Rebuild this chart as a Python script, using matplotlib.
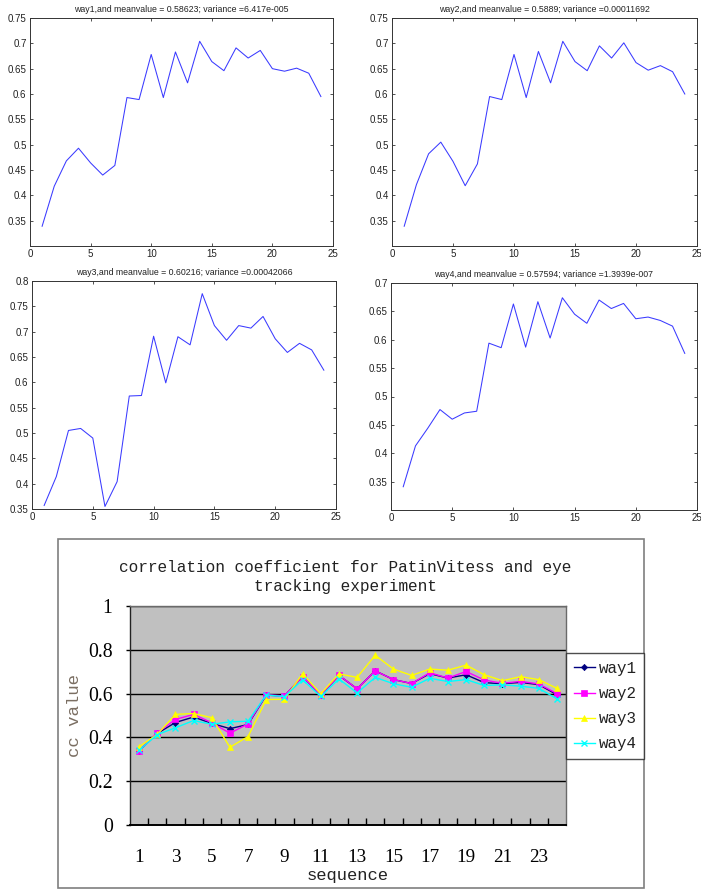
import numpy as np
import matplotlib
matplotlib.use("Agg")
import matplotlib.pyplot as plt
from matplotlib.patches import Rectangle
from matplotlib.ticker import FuncFormatter

# Correlation coefficient per sequence for the four ways
sequence = list(range(1, 25))
way1 = [0.339, 0.418, 0.468, 0.493, 0.464, 0.440, 0.459, 0.593, 0.589, 0.678, 0.593, 0.683,
        0.622, 0.704, 0.664, 0.646, 0.691, 0.671, 0.686, 0.650, 0.645, 0.651, 0.641, 0.595]
way2 = [0.339, 0.421, 0.482, 0.505, 0.467, 0.419, 0.462, 0.595, 0.589, 0.678, 0.593, 0.684,
        0.622, 0.704, 0.664, 0.646, 0.695, 0.671, 0.701, 0.662, 0.647, 0.656, 0.644, 0.600]
way3 = [0.357, 0.414, 0.505, 0.509, 0.490, 0.355, 0.404, 0.573, 0.574, 0.691, 0.599, 0.690,
        0.674, 0.775, 0.712, 0.683, 0.712, 0.707, 0.730, 0.686, 0.659, 0.677, 0.664, 0.624]
way4 = [0.341, 0.413, 0.444, 0.477, 0.460, 0.471, 0.474, 0.594, 0.586, 0.663, 0.587, 0.667,
        0.603, 0.674, 0.645, 0.629, 0.670, 0.655, 0.664, 0.637, 0.640, 0.634, 0.624, 0.576]

series = [way1, way2, way3, way4]
names = ["way1", "way2", "way3", "way4"]
titles = [
    "way1,and meanvalue = 0.58623; variance =6.417e-005",
    "way2,and meanvalue = 0.5889; variance =0.00011692",
    "way3,and meanvalue = 0.60216; variance =0.00042066",
    "way4,and meanvalue = 0.57594; variance =1.3939e-007",
]
ylims = [(0.30, 0.75), (0.30, 0.75), (0.35, 0.80), (0.30, 0.70)]
yticks = [
    [0.35, 0.4, 0.45, 0.5, 0.55, 0.6, 0.65, 0.7, 0.75],
    [0.35, 0.4, 0.45, 0.5, 0.55, 0.6, 0.65, 0.7, 0.75],
    [0.35, 0.4, 0.45, 0.5, 0.55, 0.6, 0.65, 0.7, 0.75, 0.8],
    [0.35, 0.4, 0.45, 0.5, 0.55, 0.6, 0.65, 0.7],
]
xticks_top = [0, 5, 10, 15, 20, 25]

cc_ticks = [0, 0.2, 0.4, 0.6, 0.8, 1]
seq_labels = [1, 3, 5, 7, 9, 11, 13, 15, 17, 19, 21, 23]
colors = ["#000080", "#ff00ff", "#ffff00", "#00ffff"]
markers = ["D", "s", "^", "x"]
msizes = [3.2, 4.2, 5.0, 3.8]

W, H = 701, 889
fig = plt.figure(figsize=(W / 100, H / 100), dpi=100)
fig.patch.set_facecolor("white")


def px_axes(left, top, right, bottom):
    return fig.add_axes([left / W, 1 - bottom / H, (right - left) / W, (bottom - top) / H])


# ---- four small line plots ----
boxes = [(30, 18, 333, 246), (392, 18, 697, 246), (32, 281, 336, 509), (391, 283, 697, 510)]
sans = ["Liberation Sans", "DejaVu Sans"]
for i, (box, data) in enumerate(zip(boxes, series)):
    ax = px_axes(*box)
    ax.plot(sequence, data, color="#3a3aff", lw=0.75)
    ax.set_xlim(0, 25)
    ax.set_ylim(*ylims[i])
    ax.set_xticks(xticks_top)
    ax.set_yticks(yticks[i])
    ax.xaxis.set_major_formatter(FuncFormatter(lambda v, p: f"{v:g}"))
    ax.yaxis.set_major_formatter(FuncFormatter(lambda v, p: f"{v:g}"))
    ax.tick_params(direction="in", length=2.5, width=0.6, top=True, right=True,
                   labelsize=7, colors="#333333", labelcolor="#222222", pad=2.5)
    for lab in ax.get_xticklabels() + ax.get_yticklabels():
        lab.set_family(sans)
    for s in ax.spines.values():
        s.set_color("#333333")
        s.set_linewidth(0.7)
    ax.set_title(titles[i], fontsize=6.3, family=sans, color="#222222", pad=4)

# ---- combined chart ----
fig.patches.append(Rectangle((58 / W, 1 - 888 / H), (644 - 58) / W, (888 - 539) / H,
                             transform=fig.transFigure, fill=False,
                             edgecolor="#7f7f7f", lw=1.2, zorder=0))

mono = ["Liberation Mono", "DejaVu Sans Mono"]
serif = ["Liberation Serif", "DejaVu Serif"]

bx = px_axes(130, 606, 566, 825)
bx.set_facecolor("#c0c0c0")
for data, c, m, ms, n in zip(series, colors, markers, msizes, names):
    bx.plot(sequence, data, color=c, lw=1.0, marker=m, markersize=ms,
            markeredgewidth=1.0 if m == "x" else 0.5, markeredgecolor=c, label=n)
bx.set_xlim(0.5, 24.5)
bx.set_ylim(0, 1)
bx.set_yticks(cc_ticks)
bx.yaxis.set_major_formatter(FuncFormatter(lambda v, p: f"{v:g}"))
bx.set_xticks(np.arange(1.5, 24.5, 1))
bx.set_xticklabels([])
bx.set_xticks(seq_labels, minor=True)
bx.set_xticklabels([str(v) for v in seq_labels], minor=True)
bx.tick_params(axis="x", which="major", direction="in", length=5, width=1.0, color="black")
bx.tick_params(axis="x", which="minor", length=0, pad=17.5, labelsize=13.8)
bx.tick_params(axis="y", direction="out", length=3, width=1.0, pad=9.5, labelsize=14.2)
for lab in bx.get_xticklabels(minor=True) + bx.get_yticklabels():
    lab.set_family(serif)
bx.yaxis.grid(True, color="black", lw=1.0)
bx.set_axisbelow(True)
bx.spines["top"].set_color("#6a6a6a")
bx.spines["right"].set_color("#6a6a6a")
bx.spines["left"].set_color("#222222")
bx.spines["bottom"].set_color("black")
for s in bx.spines.values():
    s.set_linewidth(1.0)
bx.spines["bottom"].set_linewidth(1.4)

bx.set_xlabel("sequence", family=mono, fontsize=12.3, color="#222222")
bx.set_ylabel("cc value", family=mono, fontsize=12.5, color="#7a6e62")
bx.yaxis.set_label_coords((82 - 130) / (566 - 130), 0.5)
bx.xaxis.set_label_coords(0.5, -(868 - 825) / (825 - 606))

fig.text(345 / W, 1 - 577 / H,
         "correlation coefficient for PatinVitess and eye\ntracking experiment",
         ha="center", va="center", family=mono, fontsize=11.6, color="#222222",
         linespacing=1.35)

leg = fig.legend(loc="upper left", bbox_to_anchor=(566 / W, 1 - 653 / H),
                 prop={"family": mono, "size": 11.4}, frameon=True, fancybox=False,
                 borderaxespad=0, borderpad=0.5, handlelength=1.3, handletextpad=0.25,
                 labelspacing=0.64, markerscale=1.0)
leg.get_frame().set_edgecolor("#222222")
leg.get_frame().set_linewidth(1.0)
for t in leg.get_texts():
    t.set_color("#222222")

fig.savefig("out.png", dpi=100)
